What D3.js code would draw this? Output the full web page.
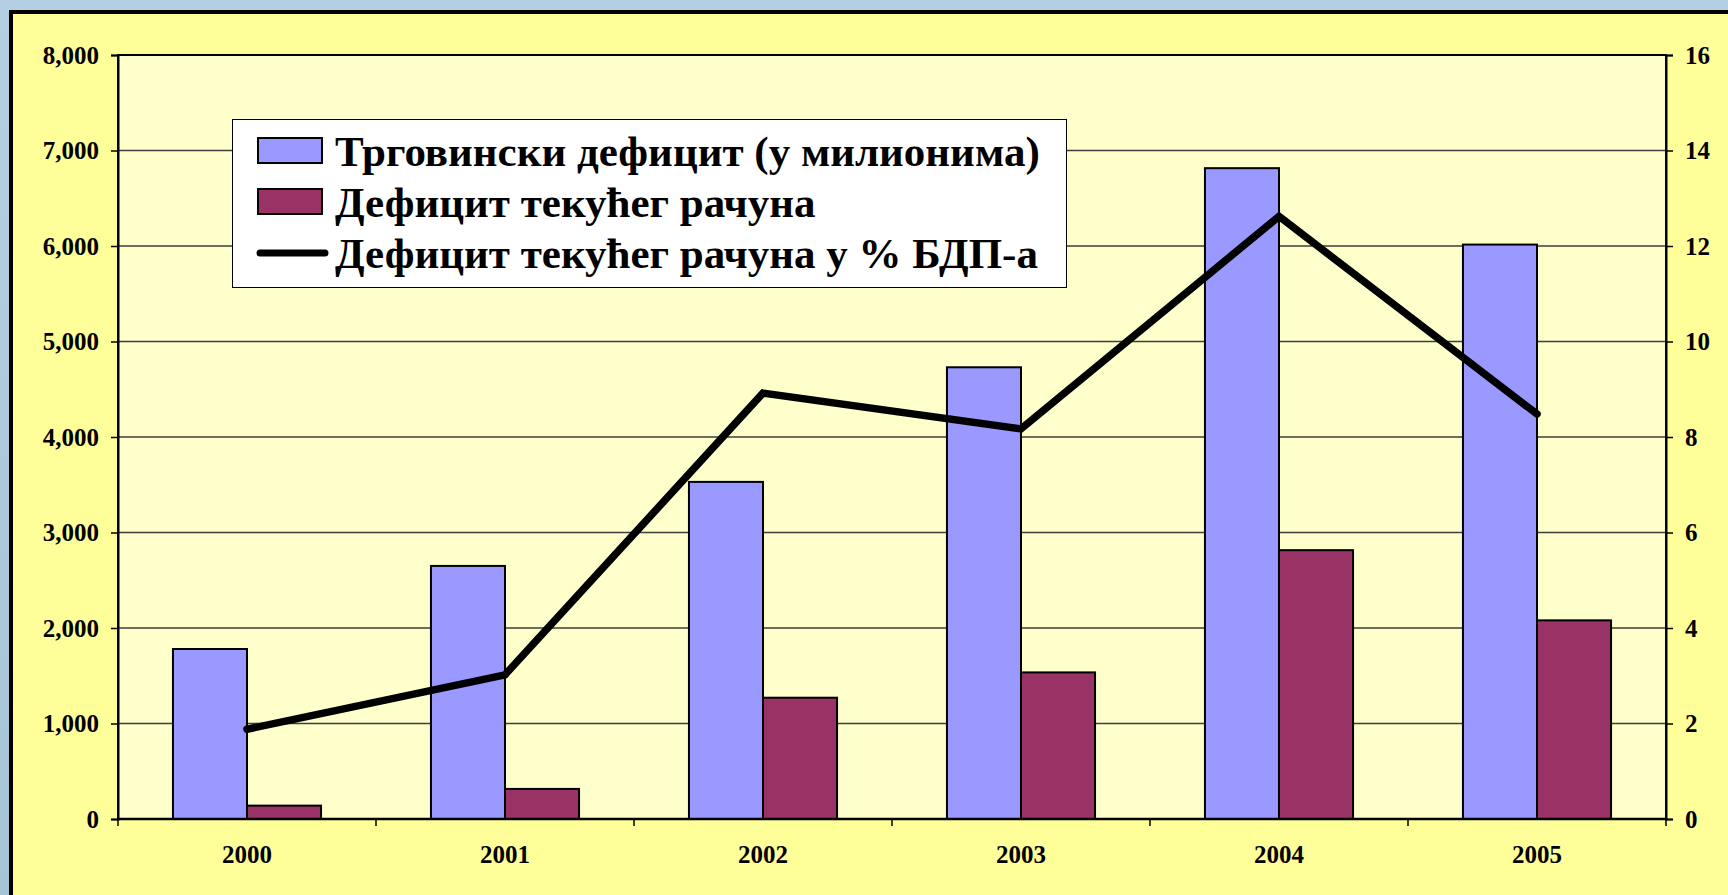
<!DOCTYPE html>
<html>
<head>
<meta charset="utf-8">
<title>Дефицит</title>
<style>
    html, body { margin: 0; padding: 0; }
    body { width: 1728px; height: 895px; overflow: hidden;
           background: linear-gradient(180deg, #b4cfe2 0%, #a6c4d8 100%); }
    svg { display: block; }
    svg text { font-family: "Liberation Serif", "Times New Roman", serif !important; font-weight: bold; fill: #000; }
</style>
</head>
<body>
<div id="chart"></div>
<script src="https://cdn.jsdelivr.net/npm/d3@7"></script>
<script>
(function (d3) {
    'use strict';

    var years = ['2000', '2001', '2002', '2003', '2004', '2005'];
    var tradeDeficit = [1780, 2650, 3530, 4730, 6815, 6015];
    var currentDeficit = [140, 315, 1270, 1535, 2815, 2080];
    var currentPctGdp = [1.88, 3.02, 8.92, 8.17, 12.62, 8.48];
    var leftTicks = [0, 1000, 2000, 3000, 4000, 5000, 6000, 7000, 8000];
    var rightTicks = [0, 2, 4, 6, 8, 10, 12, 14, 16];
    var seriesNames = ['Трговински дефицит (у милионима)', 'Дефицит текућег рачуна', 'Дефицит текућег рачуна у % БДП-а'];
    var seriesColors = ['#9999ff', '#993366', '#000000'];

    var width = 1728, height = 895;
    var plot = { left: 118, right: 1666, top: 55, bottom: 819 };
    var serif = '"Liberation Serif", "Times New Roman", serif';

    var svg = d3.select('#chart').append('svg')
        .attr('width', width)
        .attr('height', height);

    // outer yellow chart area with thick black frame
    svg.append('rect')
        .attr('x', 11).attr('y', 12)
        .attr('width', 1800).attr('height', 1000)
        .attr('fill', '#ffff99')
        .attr('stroke', '#000').attr('stroke-width', 4);

    // plot background
    svg.append('rect')
        .attr('x', plot.left).attr('y', plot.top)
        .attr('width', plot.right - plot.left).attr('height', plot.bottom - plot.top)
        .attr('fill', '#ffffcc');

    var x0 = d3.scaleBand()
        .domain(years)
        .range([plot.left, plot.right])
        .paddingInner(0.426)
        .paddingOuter(0.213);

    var x1 = d3.scaleBand()
        .domain([0, 1])
        .range([0, x0.bandwidth()]);

    var yL = d3.scaleLinear().domain([0, 8000]).range([plot.bottom, plot.top]);
    var yR = d3.scaleLinear().domain([0, 16]).range([plot.bottom, plot.top]);

    // gridlines
    svg.append('g').selectAll('line')
        .data(leftTicks.slice(1, -1))
        .enter().append('line')
        .attr('x1', plot.left).attr('x2', plot.right)
        .attr('y1', function (d) { return yL(d); })
        .attr('y2', function (d) { return yL(d); })
        .attr('stroke', '#3d3d3d')
        .attr('stroke-width', 1.5);

    // bars
    var groups = svg.append('g').selectAll('g')
        .data(years)
        .enter().append('g')
        .attr('transform', function (d) { return 'translate(' + x0(d) + ',0)'; });

    groups.selectAll('rect')
        .data(function (d, i) { return [tradeDeficit[i], currentDeficit[i]]; })
        .enter().append('rect')
        .attr('x', function (d, i) { return x1(i); })
        .attr('y', function (d) { return yL(d); })
        .attr('width', x1.bandwidth())
        .attr('height', function (d) { return yL(0) - yL(d); })
        .attr('fill', function (d, i) { return seriesColors[i]; })
        .attr('stroke', '#000')
        .attr('stroke-width', 2);

    // plot border
    svg.append('rect')
        .attr('x', plot.left).attr('y', plot.top)
        .attr('width', plot.right - plot.left).attr('height', plot.bottom - plot.top)
        .attr('fill', 'none')
        .attr('stroke', '#000').attr('stroke-width', 2);

    // line series on right axis
    var line = d3.line()
        .x(function (d, i) { return x0(years[i]) + x0.bandwidth() / 2; })
        .y(function (d) { return yR(d); });

    svg.append('path')
        .datum(currentPctGdp)
        .attr('d', line)
        .attr('fill', 'none')
        .attr('stroke', '#000')
        .attr('stroke-width', 7.5)
        .attr('stroke-linejoin', 'miter')
        .attr('stroke-linecap', 'round');

    // axes
    var leftAxis = d3.axisLeft(yL)
        .tickValues(leftTicks)
        .tickSize(7)
        .tickPadding(12)
        .tickFormat(d3.format(','));

    var rightAxis = d3.axisRight(yR)
        .tickValues(rightTicks)
        .tickSize(7)
        .tickPadding(12);

    var gl = svg.append('g')
        .attr('transform', 'translate(' + plot.left + ',0)')
        .call(leftAxis);
    var gr = svg.append('g')
        .attr('transform', 'translate(' + plot.right + ',0)')
        .call(rightAxis);

    [gl, gr].forEach(function (g) {
        g.attr('font-family', serif).attr('font-size', 25);
        g.select('.domain').attr('stroke', '#000').attr('stroke-width', 2);
        g.selectAll('.tick line').attr('stroke', '#000').attr('stroke-width', 1.5);
        g.selectAll('.tick text')
            .style('font-family', serif)
            .style('font-weight', 'bold')
            .style('font-size', '25px')
            .attr('fill', '#000');
    });

    // x axis: line, ticks between categories, centred labels
    var gx = svg.append('g');
    gx.append('line')
        .attr('x1', plot.left).attr('x2', plot.right)
        .attr('y1', plot.bottom).attr('y2', plot.bottom)
        .attr('stroke', '#000').attr('stroke-width', 2.5);

    var step = x0.step();
    gx.selectAll('.xtick')
        .data(d3.range(years.length + 1))
        .enter().append('line')
        .attr('class', 'xtick')
        .attr('x1', function (d) { return plot.left + d * step; })
        .attr('x2', function (d) { return plot.left + d * step; })
        .attr('y1', plot.bottom).attr('y2', plot.bottom + 7)
        .attr('stroke', '#000').attr('stroke-width', 1.5);

    gx.selectAll('.xlabel')
        .data(years)
        .enter().append('text')
        .attr('class', 'xlabel')
        .attr('x', function (d) { return x0(d) + x0.bandwidth() / 2; })
        .attr('y', 863)
        .attr('text-anchor', 'middle')
        .style('font-size', '25px')
        .text(function (d) { return d; });

    // legend
    var legend = svg.append('g');
    legend.append('rect')
        .attr('x', 232.5).attr('y', 119.5)
        .attr('width', 834).attr('height', 168)
        .attr('fill', '#fff')
        .attr('stroke', '#000').attr('stroke-width', 1);

    var rowBase = [166, 217, 268];
    var rows = legend.selectAll('.row')
        .data(seriesNames)
        .enter().append('g')
        .attr('class', 'row')
        .attr('transform', function (d, i) { return 'translate(0,' + rowBase[i] + ')'; });

    rows.filter(function (d, i) { return i < 2; })
        .append('rect')
        .attr('x', 258).attr('y', -28)
        .attr('width', 64).attr('height', 25)
        .attr('fill', function (d, i) { return seriesColors[i]; })
        .attr('stroke', '#000').attr('stroke-width', 2);

    rows.filter(function (d, i) { return i === 2; })
        .append('line')
        .attr('x1', 260).attr('x2', 325)
        .attr('y1', -15).attr('y2', -15)
        .attr('stroke', '#000').attr('stroke-width', 7)
        .attr('stroke-linecap', 'round');

    rows.append('text')
        .attr('x', 335).attr('y', 0)
        .style('font-size', '43px')
        .text(function (d) { return d; });

})(window.d3);
</script>
</body>
</html>
